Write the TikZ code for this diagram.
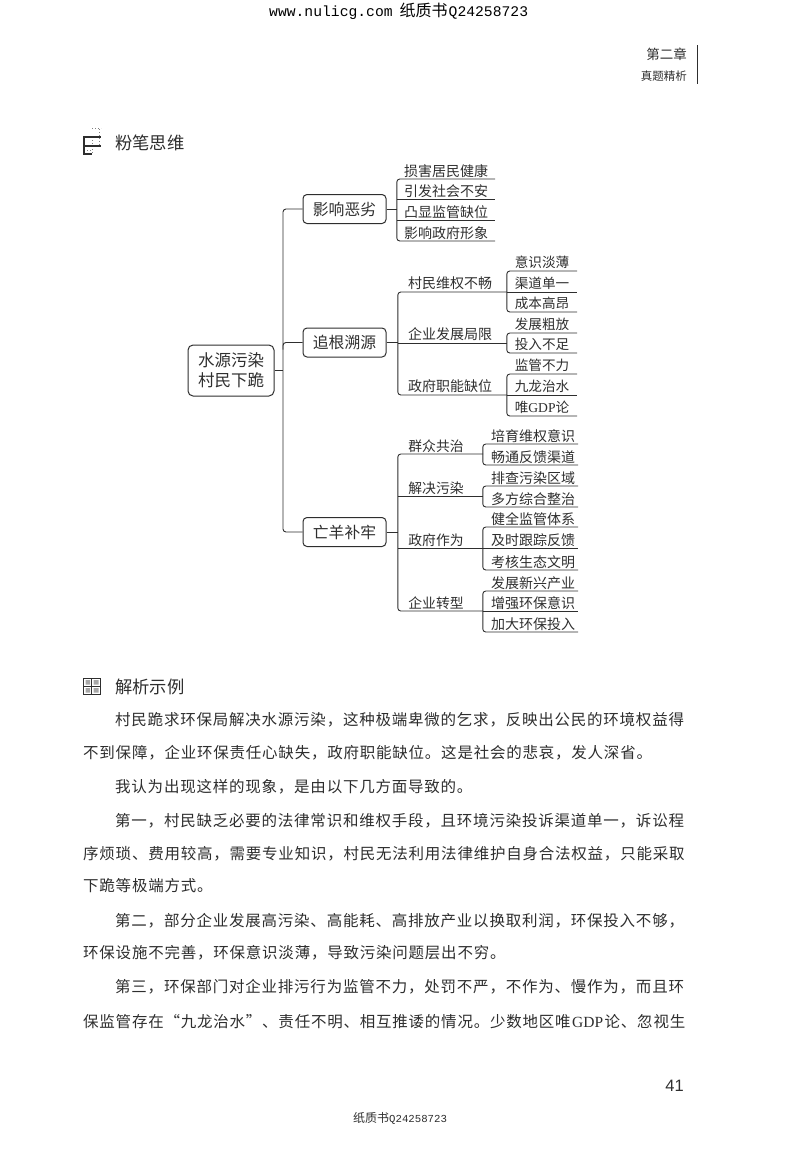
\documentclass[tikz,border=0pt]{standalone}
\usepackage{fontspec}
\setmainfont{Noto Sans CJK SC}
\newfontfamily\bodyfont[LetterSpace=5]{Noto Sans CJK SC}
\newfontfamily\monofont{Liberation Mono}
\newfontfamily\latsans{Liberation Sans}
\newfontfamily\latserif{Liberation Serif}
\newcommand{\fsz}[1]{\fontsize{#1}{#1}\selectfont}
\definecolor{ink}{gray}{0.18}
\tikzset{
  lk/.style={draw=ink,line width=0.9pt},
  brk/.style={lk,rounded corners=3pt},
  mainbox/.style={draw=ink,line width=1pt,rounded corners=4pt,minimum width=83pt,minimum height=29pt,inner sep=0pt,text=ink,font=\fsz{15.8}},
  rootbox/.style={draw=ink,line width=1pt,rounded corners=5pt,minimum width=86pt,minimum height=51pt,inner sep=0pt,text=ink,align=center,font=\fsz{16.5}},
  leafa/.style={anchor=south,minimum width=98pt,minimum height=16pt,inner sep=0pt,text=ink,font=\fsz{14}},
  leafb/.style={anchor=south,minimum width=70pt,minimum height=17pt,inner sep=0pt,text=ink,font=\fsz{13.6}},
  leafc/.style={anchor=south,minimum width=95pt,minimum height=16pt,inner sep=0pt,text=ink,font=\fsz{14}},
  midb/.style={anchor=south,minimum width=109pt,minimum height=17pt,inner sep=0pt,text=ink,font=\fsz{14}},
  midc/.style={anchor=south,minimum width=85pt,minimum height=16pt,inner sep=0pt,text=ink,font=\fsz{13.8}},
  bodyline/.style={anchor=west,inner sep=0pt,text=ink,font=\bodyfont\fsz{15.5}},
  heading/.style={anchor=west,inner sep=0pt,text=ink,font=\fsz{17.3}},
  icon/.style={draw=ink,line width=1.2pt},
  iconfaint/.style={draw=gray,line width=1pt,dotted}
}
\begin{document}
\begin{tikzpicture}[x=1pt,y=-1pt]
\useasboundingbox (0,0) rectangle (800,1168);
% page furniture
\node[anchor=west,inner sep=0pt,text=black] (hdr) at (269,11) {{\monofont\fsz{14.7}www.nulicg.com}\kern7pt{\fsz{16}纸质书}\kern1pt{\monofont\fsz{14.7}Q24258723}};
\node[anchor=east,inner sep=0pt,text=ink,font=\fsz{13.5}] (chap) at (687,54) {第二章};
\node[anchor=east,inner sep=0pt,text=ink,font=\fsz{11.5}] (sect) at (687,76) {真题精析};
\coordinate (rulea) at (697,45);
\coordinate (ruleb) at (697,84);
\draw[ink,line width=1pt] (rulea) -- (ruleb);
\node[heading] (h1) at (115,143) {粉笔思维};
\node[heading] (h2) at (115,687) {解析示例};
% icon 1
\draw[iconfaint] (92,128) -- (101,128);
\draw[iconfaint] (99,129) -- (99,145);
\draw[iconfaint] (92,137) -- (92,154);
\draw[iconfaint] (87,150) -- (91,150);
\draw[icon] (83,137) -- (101,137);
\draw[icon] (83,146) -- (101,146);
\draw[icon] (84,137) -- (84,154) -- (92,154);
% icon 2
\draw[ink,line width=1pt] (83.5,678) rectangle (100,694);
\draw[ink,line width=1pt] (83.5,686) -- (100,686) (91.7,678) -- (91.7,694);
\fill[gray!70] (85.5,680) rectangle (90,684.5) (93.5,680) rectangle (98.5,684.5) (85.5,688) rectangle (90,692.5) (93.5,688) rectangle (98.5,692.5);
% mind map
\node[rootbox] (root) at (231,370.5) {水源污染\\[3pt]村民下跪};
\node[mainbox] (b1) at (344.5,209) {影响恶劣};
\node[mainbox] (b2) at (344.5,342.5) {追根溯源};
\node[mainbox] (b3) at (344.5,532) {亡羊补牢};
\coordinate (tr) at (283,370.5);
\draw[lk] (root.east) -- (tr);
\draw[brk] (b1.west) -- (b1.west -| tr) -- (b3.west -| tr) -- (b3.west);
\draw[brk] (b2.west) -- (b2.west -| tr) -- +(0,7);
% branch 1
\node[leafa] (a1) at (446,179) {损害居民健康};
\node[leafa] (a2) at (446,199) {引发社会不安};
\node[leafa] (a3) at (446,220) {凸显监管缺位};
\node[leafa] (a4) at (446,241) {影响政府形象};
\draw[brk] (a1.south east) -- (a1.south west) -- (a4.south west) -- (a4.south east);
\draw[lk] (a2.south west) -- (a2.south east);
\draw[lk] (a3.south west) -- (a3.south east);
\draw[lk] (b1.east) -- (b1.east -| a1.south west);
% branch 2
\node[midb] (m1) at (452.5,292) {村民维权不畅\kern5pt};
\node[midb] (m2) at (452.5,343) {企业发展局限\kern5pt};
\node[midb] (m3) at (452.5,395) {政府职能缺位\kern5pt};
\draw[brk] (m1.south east) -- (m1.south west) -- (m3.south west) -- (m3.south east);
\draw[lk] (m2.south west) -- (m2.south east);
\draw[lk] (b2.east) -- (b2.east -| m1.south west);
\node[leafb] (c1) at (542,271) {意识淡薄};
\node[leafb] (c2) at (542,292) {渠道单一};
\node[leafb] (c3) at (542,312) {成本高昂};
\node[leafb] (c4) at (542,333) {发展粗放};
\node[leafb] (c5) at (542,353) {投入不足};
\node[leafb] (c6) at (542,374) {监管不力};
\node[leafb] (c7) at (542,395) {九龙治水};
\node[leafb] (c8) at (542,416) {唯{\latserif GDP}论};
\draw[brk] (c1.south east) -- (c1.south west) -- (c3.south west) -- (c3.south east);
\draw[lk] (c2.south west) -- (c2.south east);
\draw[brk] (c4.south east) -- (c4.south west) -- (c5.south west) -- (c5.south east);
\draw[brk] (c6.south east) -- (c6.south west) -- (c8.south west) -- (c8.south east);
\draw[lk] (c7.south west) -- (c7.south east);
% branch 3
\node[midc] (n1) at (440.5,454) {群众共治\kern9pt};
\node[midc] (n2) at (440.5,496) {解决污染\kern9pt};
\node[midc] (n3) at (440.5,548.5) {政府作为\kern9pt};
\node[midc] (n4) at (440.5,611) {企业转型\kern9pt};
\draw[brk] (n1.south east) -- (n1.south west) -- (n4.south west) -- (n4.south east);
\draw[lk] (n2.south west) -- (n2.south east);
\draw[lk] (n3.south west) -- (n3.south east);
\draw[lk] (b3.east) -- (b3.east -| n1.south west);
\node[leafc] (d1) at (530.5,444) {\kern5pt培育维权意识};
\node[leafc] (d2) at (530.5,465) {\kern5pt畅通反馈渠道};
\node[leafc] (d3) at (530.5,486) {\kern5pt排查污染区域};
\node[leafc] (d4) at (530.5,507) {\kern5pt多方综合整治};
\node[leafc] (d5) at (530.5,527) {\kern5pt健全监管体系};
\node[leafc] (d6) at (530.5,548.5) {\kern5pt及时跟踪反馈};
\node[leafc] (d7) at (530.5,570) {\kern5pt考核生态文明};
\node[leafc] (d8) at (530.5,591) {\kern5pt发展新兴产业};
\node[leafc] (d9) at (530.5,611) {\kern5pt增强环保意识};
\node[leafc] (d10) at (530.5,632) {\kern5pt加大环保投入};
\draw[brk] (d1.south east) -- (d1.south west) -- (d2.south west) -- (d2.south east);
\draw[brk] (d3.south east) -- (d3.south west) -- (d4.south west) -- (d4.south east);
\draw[brk] (d5.south east) -- (d5.south west) -- (d7.south west) -- (d7.south east);
\draw[lk] (d6.south west) -- (d6.south east);
\draw[brk] (d8.south east) -- (d8.south west) -- (d10.south west) -- (d10.south east);
\draw[lk] (d9.south west) -- (d9.south east);
% body text
\node[bodyline] (t1) at (115,720) {村民跪求环保局解决水源污染，这种极端卑微的乞求，反映出公民的环境权益得};
\node[bodyline] (t2) at (83,753) {不到保障，企业环保责任心缺失，政府职能缺位。这是社会的悲哀，发人深省。};
\node[bodyline] (t3) at (115,787) {我认为出现这样的现象，是由以下几方面导致的。};
\node[bodyline] (t4) at (115,821) {第一，村民缺乏必要的法律常识和维权手段，且环境污染投诉渠道单一，诉讼程};
\node[bodyline] (t5) at (83,854) {序烦琐、费用较高，需要专业知识，村民无法利用法律维护自身合法权益，只能采取};
\node[bodyline] (t6) at (83,886) {下跪等极端方式。};
\node[bodyline] (t7) at (115,921) {第二，部分企业发展高污染、高能耗、高排放产业以换取利润，环保投入不够，};
\node[bodyline] (t8) at (83,953) {环保设施不完善，环保意识淡薄，导致污染问题层出不穷。};
\node[bodyline] (t9) at (115,987) {第三，环保部门对企业排污行为监管不力，处罚不严，不作为、慢作为，而且环};
\node[bodyline] (t10) at (83,1022) {保监管存在“九龙治水”、责任不明、相互推诿的情况。少数地区唯\kern1.5pt{\latserif GDP}\kern1.5pt论、忽视生};
\node[anchor=east,inner sep=0pt,text=ink,font=\latsans\fsz{16.5}] (pg) at (684,1086) {41};
\node[anchor=west,inner sep=0pt,text=ink] (foot) at (353,1118) {{\fsz{12}纸质书}{\monofont\fsz{10.7}Q24258723}};
\end{tikzpicture}
\end{document}
